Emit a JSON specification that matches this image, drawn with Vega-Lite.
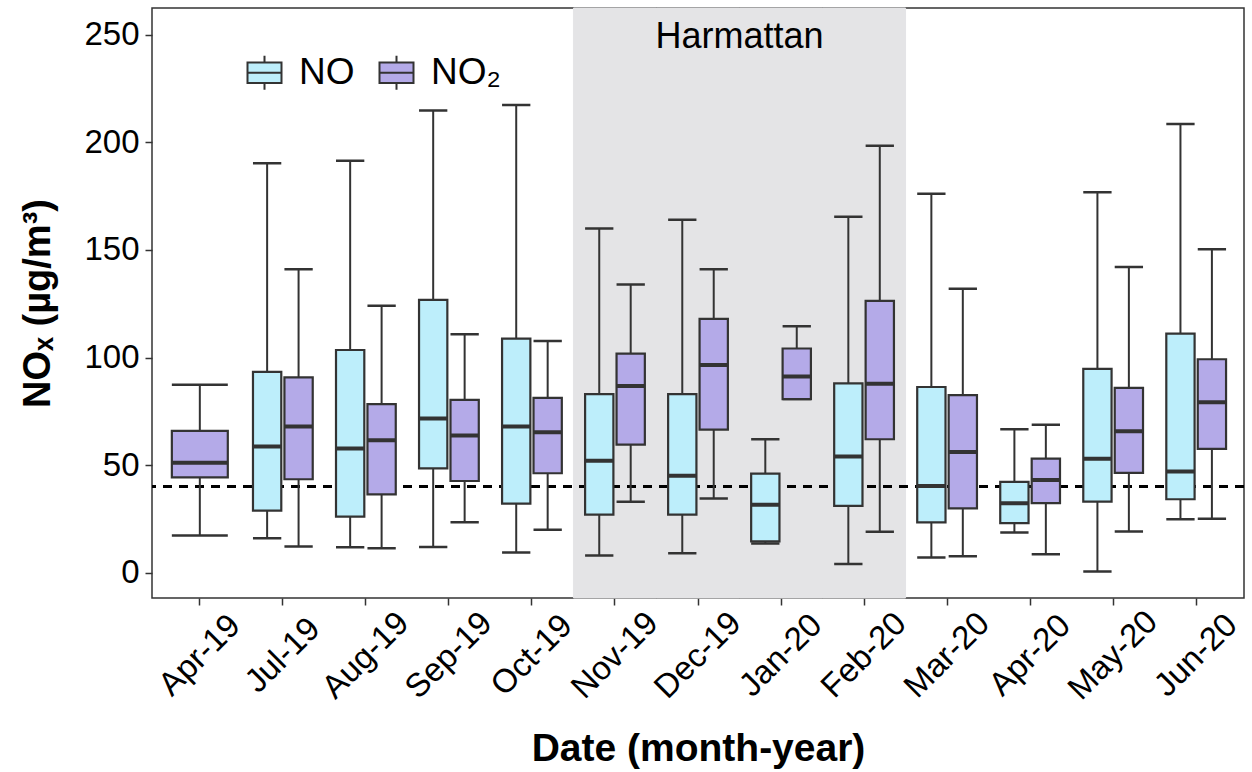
{
  "$schema": "https://vega.github.io/schema/vega-lite/v6.json",
  "width": 1092,
  "height": 590,
  "autosize": {"type": "none"},
  "padding": {"left": 152, "top": 8, "right": 8, "bottom": 174},
  "background": "white",
  "config": {
    "font": "Liberation Sans",
    "view": {"stroke": "#333333", "strokeWidth": 1.5},
    "axis": {"grid": false, "domain": false, "tickColor": "#333333", "tickWidth": 1.5, "tickSize": 7, "labelColor": "black", "titleColor": "black"}
  },
  "datasets": {
    "stats": [
      {"month": "Apr-19", "pollutant": "NO₂", "lo": 17.2, "q1": 44.3, "med": 51.1, "q3": 65.9, "hi": 87.3},
      {"month": "Jul-19", "pollutant": "NO", "lo": 16.0, "q1": 28.8, "med": 58.6, "q3": 93.3, "hi": 190.3},
      {"month": "Jul-19", "pollutant": "NO₂", "lo": 12.1, "q1": 43.4, "med": 67.9, "q3": 90.8, "hi": 141.0},
      {"month": "Aug-19", "pollutant": "NO", "lo": 11.8, "q1": 26.0, "med": 57.7, "q3": 103.5, "hi": 191.5},
      {"month": "Aug-19", "pollutant": "NO₂", "lo": 11.3, "q1": 36.4, "med": 61.5, "q3": 78.3, "hi": 124.1},
      {"month": "Sep-19", "pollutant": "NO", "lo": 11.9, "q1": 48.5, "med": 71.6, "q3": 126.8, "hi": 214.8},
      {"month": "Sep-19", "pollutant": "NO₂", "lo": 23.4, "q1": 42.6, "med": 63.7, "q3": 80.3, "hi": 110.8},
      {"month": "Oct-19", "pollutant": "NO", "lo": 9.3, "q1": 32.1, "med": 67.9, "q3": 108.8, "hi": 217.4},
      {"month": "Oct-19", "pollutant": "NO₂", "lo": 19.9, "q1": 46.2, "med": 65.3, "q3": 81.2, "hi": 107.7},
      {"month": "Nov-19", "pollutant": "NO", "lo": 8.0, "q1": 27.0, "med": 52.0, "q3": 83.0, "hi": 160.0},
      {"month": "Nov-19", "pollutant": "NO₂", "lo": 33.0, "q1": 59.5, "med": 86.8, "q3": 101.8, "hi": 134.0},
      {"month": "Dec-19", "pollutant": "NO", "lo": 9.0, "q1": 27.0, "med": 45.0, "q3": 83.0, "hi": 164.0},
      {"month": "Dec-19", "pollutant": "NO₂", "lo": 34.5, "q1": 66.5, "med": 96.5, "q3": 118.0, "hi": 141.0},
      {"month": "Jan-20", "pollutant": "NO", "lo": 13.5, "q1": 14.5, "med": 31.5, "q3": 46.0, "hi": 62.0},
      {"month": "Jan-20", "pollutant": "NO₂", "lo": 80.7, "q1": 80.7, "med": 91.2, "q3": 104.2, "hi": 114.5},
      {"month": "Feb-20", "pollutant": "NO", "lo": 4.0, "q1": 31.0, "med": 54.0, "q3": 88.0, "hi": 165.5},
      {"month": "Feb-20", "pollutant": "NO₂", "lo": 19.0, "q1": 62.0, "med": 87.8, "q3": 126.3, "hi": 198.5},
      {"month": "Mar-20", "pollutant": "NO", "lo": 7.0, "q1": 23.4, "med": 40.3, "q3": 86.3, "hi": 176.2},
      {"month": "Mar-20", "pollutant": "NO₂", "lo": 7.6, "q1": 29.9, "med": 56.1, "q3": 82.5, "hi": 132.0},
      {"month": "Apr-20", "pollutant": "NO", "lo": 18.6, "q1": 23.0, "med": 32.3, "q3": 42.2, "hi": 66.7},
      {"month": "Apr-20", "pollutant": "NO₂", "lo": 8.5, "q1": 32.3, "med": 43.1, "q3": 53.0, "hi": 68.8},
      {"month": "May-20", "pollutant": "NO", "lo": 0.5, "q1": 33.0, "med": 52.9, "q3": 94.7, "hi": 176.8},
      {"month": "May-20", "pollutant": "NO₂", "lo": 19.1, "q1": 46.4, "med": 65.7, "q3": 85.9, "hi": 142.1},
      {"month": "Jun-20", "pollutant": "NO", "lo": 24.8, "q1": 34.1, "med": 47.0, "q3": 111.1, "hi": 208.6},
      {"month": "Jun-20", "pollutant": "NO₂", "lo": 25.1, "q1": 57.5, "med": 79.2, "q3": 99.2, "hi": 150.3}
    ],
    "harm": [
      {"month": "Nov-19"}, {"month": "Dec-19"}, {"month": "Jan-20"}, {"month": "Feb-20"}
    ]
  },
  "encoding": {
    "x": {
      "field": "month", "type": "nominal",
      "scale": {"domain": ["Apr-19","Jul-19","Aug-19","Sep-19","Oct-19","Nov-19","Dec-19","Jan-20","Feb-20","Mar-20","Apr-20","May-20","Jun-20"], "paddingInner": 0, "paddingOuter": 0.076},
      "axis": {"labelAngle": -45, "labelAlign": "center", "labelBaseline": "middle", "labelFontSize": 33, "labelPadding": 50, "title": "Date (month-year)", "titleFontSize": 39, "titleFontWeight": "bold", "titlePadding": 24}
    }
  },
  "layer": [
    {
      "data": {"name": "harm"},
      "mark": {"type": "bar", "color": "#e4e4e6", "stroke": "#e4e4e6", "strokeWidth": 1},
      "encoding": {}
    },
    {
      "data": {"values": [{"label": "Harmattan"}]},
      "mark": {"type": "text", "fontSize": 36, "color": "black", "dx": 41.5, "baseline": "middle"},
      "encoding": {
        "x": {"datum": "Dec-19"},
        "y": {"datum": 249},
        "text": {"field": "label"}
      }
    },
    {
      "data": {"name": "stats"},
      "mark": {"type": "rule", "color": "black", "strokeWidth": 2, "strokeDash": [9, 7]},
      "encoding": {
        "x": null,
        "y": {"datum": 40, "type": "quantitative",
          "scale": {"domain": [-11.8, 262.5], "nice": false, "zero": false},
          "axis": {"values": [0, 50, 100, 150, 200, 250], "labelFontSize": 33, "labelPadding": 6, "title": "NOₓ (µg/m³)", "titleFontSize": 38, "titleFontWeight": "bold", "titlePadding": 26}
        }
      }
    },
    {
      "data": {"name": "stats"},
      "transform": [{"filter": "datum.month != 'Apr-19'"}],
      "encoding": {
        "xOffset": {"field": "pollutant", "type": "nominal", "scale": {"domain": ["NO", "NO₂"], "paddingInner": 0.1, "paddingOuter": 0.37}}
      },
      "layer": [
        {"mark": {"type": "rule", "color": "#333333", "strokeWidth": 2}, "encoding": {"y": {"field": "lo", "type": "quantitative"}, "y2": {"field": "hi"}}},
        {"mark": {"type": "bar", "fill": null, "stroke": "#333333", "strokeWidth": 2.5}, "encoding": {"y": {"field": "hi", "type": "quantitative"}, "y2": {"field": "hi"}}},
        {"mark": {"type": "bar", "fill": null, "stroke": "#333333", "strokeWidth": 2.5}, "encoding": {"y": {"field": "lo", "type": "quantitative"}, "y2": {"field": "lo"}}},
        {"mark": {"type": "bar", "stroke": "#333333", "strokeWidth": 2.2, "opacity": 1}, "encoding": {"y": {"field": "q1", "type": "quantitative"}, "y2": {"field": "q3"},
          "color": {"field": "pollutant", "type": "nominal",
            "scale": {"domain": ["NO", "NO₂"], "range": ["#bdeefb", "#b4aae8"]},
            "legend": {"title": null, "orient": "none", "legendX": 94, "legendY": 46, "direction": "horizontal",
              "symbolType": "M-1,-0.6H1V0.6H-1Z M-1,0H1 M0,-0.6V-1 M0,0.6V1",
              "symbolSize": 1156, "symbolStrokeColor": "#333333", "symbolStrokeWidth": 2, "symbolOpacity": 1,
              "labelFontSize": 37, "labelColor": "black", "labelOffset": 16, "columnPadding": 20}
          }}},
        {"mark": {"type": "bar", "fill": null, "stroke": "#333333", "strokeWidth": 4}, "encoding": {"y": {"field": "med", "type": "quantitative"}, "y2": {"field": "med"}}}
      ]
    },
    {
      "data": {"name": "stats"},
      "transform": [{"filter": "datum.month == 'Apr-19'"}],
      "layer": [
        {"mark": {"type": "rule", "color": "#333333", "strokeWidth": 2}, "encoding": {"y": {"field": "lo", "type": "quantitative"}, "y2": {"field": "hi"}}},
        {"mark": {"type": "bar", "fill": null, "stroke": "#333333", "strokeWidth": 2.5, "width": {"band": 0.674}}, "encoding": {"y": {"field": "hi", "type": "quantitative"}, "y2": {"field": "hi"}}},
        {"mark": {"type": "bar", "fill": null, "stroke": "#333333", "strokeWidth": 2.5, "width": {"band": 0.674}}, "encoding": {"y": {"field": "lo", "type": "quantitative"}, "y2": {"field": "lo"}}},
        {"mark": {"type": "bar", "stroke": "#333333", "strokeWidth": 2.2, "opacity": 1, "width": {"band": 0.674}}, "encoding": {"y": {"field": "q1", "type": "quantitative"}, "y2": {"field": "q3"}, "color": {"field": "pollutant", "type": "nominal"}}},
        {"mark": {"type": "bar", "fill": null, "stroke": "#333333", "strokeWidth": 4, "width": {"band": 0.674}}, "encoding": {"y": {"field": "med", "type": "quantitative"}, "y2": {"field": "med"}}}
      ]
    }
  ]
}
